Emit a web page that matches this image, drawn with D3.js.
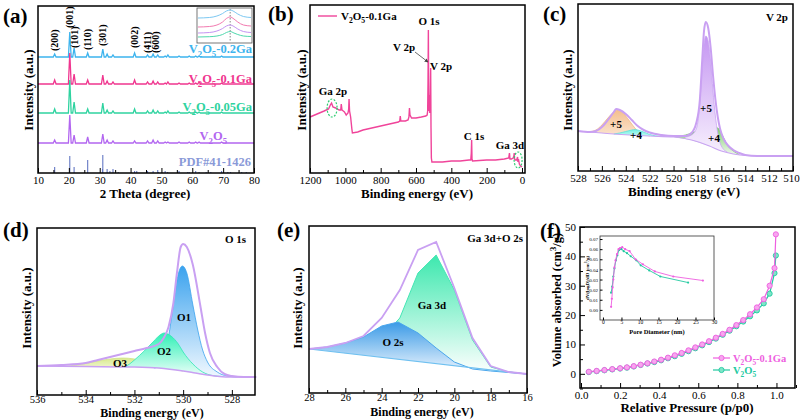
<!DOCTYPE html>
<html><head><meta charset="utf-8">
<script src="https://cdn.jsdelivr.net/npm/d3@7/dist/d3.min.js"></script>
<style>body{margin:0;background:#fff}svg{display:block}</style>
</head><body><svg id="c" width="800" height="420"></svg>
<script>
// ================= DATA =================
// (a) XRD
const xrdTicks=[10,20,30,40,50,60,70,80];
const xrdPeakPos=[15.4,20.3,21.7,26.1,31.0,32.4,34.3,41.3,45.5,47.3,48.8,51.2,52.1,55.7,59.0,61.1,62.2,69.5];
const xrd02Ga =[3,25,9,4,8,3,2,4,2,3,2,1,2,1,1,1,1,1];
const xrd01Ga =[4,31,10,4,9,3,2,4,2,3,2,1,2,1,1,1,2,1];
const xrd005Ga=[4,33,11,4,10,3,2,4,2,3,2,1,2,1,1,1,1,1];
const xrdV2O5  =[3,28,8,6,9,3,2,2,2,3,2,1,1,1,1,1,1,1];
const xrdOffsets=[116,89,60,30];
const pdfPos=[15.4,20.3,21.7,26.1,30.9,31.0,32.4,33.3,34.3,36.0,41.3,42.0,45.5,47.3,48.8,49.0,51.2,52.0,55.7,58.5,59.0,61.1,62.2,64.5,66.0,69.5,71.5,72.4,76.0,77.5];
const pdfInt=[6,17,6,13,4,18,4,2,4,1,2,2,2,2,3,1,2,1,2,1,1,2,1,1,1,2,1,1,1,1];
const millerLabels=["(200)","(001)","(101)","(110)","(301)","(002)","(411)","(600)"];
const millerPos=[15.4,20.3,21.9,26.1,31.0,41.3,45.5,48.2];
const millerTop=[122,145,125,123,127,125,120,120];
// (a) inset
const insetX=[19.6,19.9,20.1,20.25,20.35,20.45,20.55,20.65,20.8,21.0];
const insetBlue=[25,25.5,27,29.5,32,33,31.5,29,26.5,25.5];
const insetPink=[16,16.5,18,21,24.5,26,24,21,18,17];
const insetPurple=[10,10.5,12,14.5,17,18,16.5,14,11.5,10.5];
const insetGreen=[6,6.3,7,8.5,10.5,11.5,10,8.5,7,6.5];
// (b) XPS survey
const surveyTicks=[1200,1000,800,600,400,200,0];
const survey=[[1200,56],[1160,59],[1120,62],[1095,64],[1085,68],[1078,70],[1070,66],[1055,65],[1035,63],[1026,63],[1023,69],[1019,63],[1005,61],[995,58],[985,60],[981,64],[979,74],[976,62],[970,56],[963,44],[960,40],[930,41],[900,43],[850,45],[800,47],[750,49],[700,51],[692,52],[689,57],[686,52],[660,52],[645,53],[640,56],[637,65],[634,58],[625,55],[600,55],[570,56],[545,57],[537,58],[534,62],[532,90],[530,143],[528,75],[526,62],[524,78],[522,60],[519,80],[517,105],[515,45],[513,15],[510,11],[450,11],[400,12],[350,12],[300,13],[290,13],[287,20],[285,33],[283,14],[280,12],[200,13],[150,13],[100,14],[75,15],[71,20],[68,14],[60,14],[50,15],[46,17],[44,20],[42,14],[38,13],[30,13],[25,16],[23,11],[20,14],[15,9],[8,7],[0,6]];
// (c) V 2p
const v2pTicks=[528,526,524,522,520,518,516,514,512,510];
const v2pEnvelope=[[528,40],[527,39],[526.5,40],[526,44],[525.5,51],[525,59],[524.8,62],[524.5,61],[524,57],[523.5,51],[523,45],[522.5,41],[522,38.5],[521,36],[520,35],[519,35],[518.5,38],[518.1,48],[517.8,71],[517.6,111],[517.45,140],[517.3,149],[517.1,143],[516.9,124],[516.7,96],[516.5,72],[516.3,54],[516.1,42],[515.8,32],[515.4,25],[515,21],[514.5,18],[514,16],[513,15],[510,15]];
const v2pBackground=[[528,40],[525,37],[522,35],[520,34],[518.5,31],[517,25],[516,20],[515,17],[514,15.5],[510,15]];
const v2p5a=[[527.5,39.5],[527,39.5],[526.5,41],[526,46],[525.5,53],[525,59],[524.7,61],[524.3,59],[524,55],[523.5,47],[523,40],[522.5,37],[522,35]];
const v2p4a=[[525,37],[524.5,38],[524,39.5],[523.5,41],[523.2,41.5],[523,41],[522.5,39],[522,36.5],[521,34.5]];
const v2p5b=[[519,34],[518.5,36],[518.1,42],[517.9,55],[517.7,85],[517.5,120],[517.3,135],[517.1,130],[516.9,110],[516.7,80],[516.5,55],[516.3,38],[516,25],[515.5,19]];
const v2p4b=[[520,34.5],[519,36],[518.5,38],[518,40],[517.5,41.5],[517,42],[516.6,43.5],[516.3,43],[516.1,40],[515.8,33],[515.5,26],[515,20],[514.5,16.5]];
// (d) O 1s
const o1sTicks=[536,534,532,530,528];
const o1sEnvelope=[[536,29],[535,30],[534,32],[533.5,35],[533,38],[532.5,41],[532,44],[531.5,47],[531,51],[530.8,57],[530.6,68],[530.4,92],[530.25,123],[530.1,148],[530.0,151],[529.85,148],[529.6,130],[529.3,90],[529.1,62],[528.9,42],[528.6,28],[528.3,21],[528,19],[527.5,18],[527,18]];
const o1sBackground=[[536,29],[534,28.5],[532,28],[531,27],[530,24],[529.5,22],[529,20],[528.5,18.5],[528,18],[527,18]];
const o1sO1=[[531.2,27],[531,28.5],[530.8,35],[530.6,58],[530.4,90],[530.2,121],[530.03,129],[529.85,122],[529.6,90],[529.4,65],[529.2,45],[529.0,33],[528.6,23],[528.2,19],[527.8,18]];
const o1sO2=[[532.4,28],[532.2,31],[532,35],[531.6,44],[531.2,54],[530.95,60],[530.78,62],[530.5,59],[530.2,51],[530.0,43],[529.6,31],[529.2,23],[528.8,19.5],[528.4,18.5]];
const o1sO3=[[534.8,28.5],[534.5,29.5],[534,31.5],[533.5,34],[533,36],[532.5,37],[532,36],[531.5,33],[531,30],[530.5,26.5],[530,24]];
// (e) Ga 3d + O 2s
const ga3dTicks=[28,26,24,22,20,18,16];
const ga3dEnvelope=[[28,44],[27,46],[26,50],[25,57],[24,75],[23,103],[22,143],[21,151],[20,105],[19,55],[18,27],[17,21],[16,19]];
const ga3dGa=[[23.2,71],[23,75],[22,120],[21,138],[20,103],[19,53],[18,26],[17,21],[16,19]];
const ga3dO2s=[[28,44],[27,46],[26,50],[25,56],[24,67],[23.1,71],[22,60],[21,45],[20,31],[19,24],[18,22],[17,20.5],[16,19]];
const ga3dBackground=[[28,44],[16,19]];
// (f) N2 isotherm
const betTicksX=[0.0,0.2,0.4,0.6,0.8,1.0];
const betTicksY=[0,10,20,30,40,50];
const betP=[0.04,0.08,0.12,0.16,0.20,0.235,0.27,0.305,0.34,0.375,0.41,0.445,0.48,0.515,0.55,0.585,0.62,0.655,0.69,0.725,0.76,0.795,0.83,0.865,0.90,0.935,0.965,0.99,0.997];
const bet01Ga=[0.7,1.0,1.3,1.6,1.9,2.2,2.6,3.1,3.6,4.2,4.8,5.5,6.3,7.1,8.0,9.0,10.0,11.1,12.3,13.6,15.0,16.6,18.3,20.3,22.6,25.4,30.0,36.0,47.5];
const betV2O5=[0.6,0.9,1.2,1.5,1.8,2.1,2.5,3.0,3.5,4.0,4.6,5.3,6.0,6.8,7.7,8.7,9.7,10.8,12.0,13.3,14.7,16.2,17.8,19.6,21.6,24.0,27.3,34.3,40.3];
// (f) inset pore size
const poreTicksX=[0,5,10,15,20,25,30];
const poreTicksY=[0,0.01,0.02,0.03,0.04,0.05,0.06,0.07];
const pore01Ga=[[2.2,0.003],[2.4,0.011],[2.6,0.022],[2.8,0.030],[3.1,0.042],[3.4,0.049],[3.8,0.055],[4.2,0.060],[4.6,0.061],[5.2,0.062],[6.0,0.060],[7.2,0.058],[8.8,0.050],[10.8,0.045],[14,0.038],[19,0.033],[27,0.029]];
const poreV2O5=[[2.2,0.017],[2.5,0.023],[2.8,0.033],[3.1,0.041],[3.5,0.049],[3.9,0.054],[4.3,0.059],[5.0,0.060],[5.6,0.058],[6.5,0.056],[7.5,0.053],[9.0,0.049],[10.2,0.044],[12.5,0.039],[15.5,0.033],[23,0.027]];

// ================= DRAWING =================
const FONT='"Liberation Serif","Times New Roman",serif';
const svg=d3.select('#c').attr('font-family',FONT);
const defs=svg.append('defs');
function grad(id,c1,c2,o1=1,o2=1){
  const g=defs.append('linearGradient').attr('id',id).attr('x1',0).attr('y1',0).attr('x2',0).attr('y2',1);
  g.append('stop').attr('offset','0%').attr('stop-color',c1).attr('stop-opacity',o1);
  g.append('stop').attr('offset','100%').attr('stop-color',c2).attr('stop-opacity',o2);
}
grad('gOrange','#f4bf8e','#fbe4cf');
grad('gCyan','#6ff0e2','#c8faf4');
grad('gPurple','#c596f2','#f6effd');
grad('gGreen','#7fcf6e','#eef8ea');
grad('gBlue','#3aa2ee','#f0f8ff');
grad('gTeal','#2ef0b6','#f0fffa');
grad('gYellow','#d9ea8c','#f6f9e4');
grad('gGa','#3de8ae','#ffffff');
grad('gO2s','#3a9ae6','#f2f8ff');

function text(g,x,y,parts,o={}){
  const sz=o.size||12;
  const t=g.append('text').attr('x',x).attr('y',y).attr('font-size',sz)
    .attr('font-weight',o.weight||'bold').attr('fill',o.color||'#000')
    .attr('text-anchor',o.anchor||'start').attr('font-family',FONT);
  if(o.rotate) t.attr('transform',`rotate(${o.rotate},${x},${y})`);
  if(typeof parts==='string'){t.text(parts);return t;}
  let shift=0;
  parts.forEach(p=>{
    const [s,k]=Array.isArray(p)?p:[p,null];
    const ts=t.append('tspan').text(s);
    const target=k==='sub'?sz*0.3:k==='sup'?-sz*0.4:0;
    if(target!==shift){ts.attr('dy',target-shift);shift=target;}
    if(k) ts.attr('font-size',sz*0.7);
  });
  return t;
}
function frame(x0,y0,x1,y1){
  svg.append('rect').attr('x',x0).attr('y',y0).attr('width',x1-x0).attr('height',y1-y0)
    .attr('fill','none').attr('stroke','#000').attr('stroke-width',1.5);
}
function bottomAxis(scale,y,ticks,fmt,minor,size=11,len=5,pad=3){
  const a=svg.append('g').attr('transform',`translate(0,${y})`)
    .call(d3.axisBottom(scale).tickValues(ticks).tickSize(-len).tickPadding(pad).tickFormat(fmt||d3.format('d')));
  a.select('.domain').remove();
  a.selectAll('text').attr('font-size',size).attr('font-family',FONT).attr('fill','#000');
  a.selectAll('line').attr('stroke','#000');
  if(minor){
    const m=svg.append('g').attr('transform',`translate(0,${y})`)
      .call(d3.axisBottom(scale).tickValues(minor).tickSize(-len*0.6).tickFormat(''));
    m.select('.domain').remove(); m.selectAll('line').attr('stroke','#000');
  }
  return a;
}
function leftAxis(scale,x,ticks,fmt,minor,size=11,len=5,pad=4){
  const a=svg.append('g').attr('transform',`translate(${x},0)`)
    .call(d3.axisLeft(scale).tickValues(ticks).tickSize(-len).tickPadding(pad).tickFormat(fmt||d3.format('d')));
  a.select('.domain').remove();
  a.selectAll('text').attr('font-size',size).attr('font-family',FONT).attr('fill','#000');
  a.selectAll('line').attr('stroke','#000');
  if(minor){
    const m=svg.append('g').attr('transform',`translate(${x},0)`)
      .call(d3.axisLeft(scale).tickValues(minor).tickSize(-len*0.6).tickFormat(''));
    m.select('.domain').remove(); m.selectAll('line').attr('stroke','#000');
  }
  return a;
}
function interp(arr,x){
  const s=arr.slice().sort((a,b)=>a[0]-b[0]);
  if(x<=s[0][0]) return s[0][1];
  for(let i=1;i<s.length;i++){ if(x<=s[i][0]){const t=(x-s[i-1][0])/(s[i][0]-s[i-1][0]);return s[i-1][1]+t*(s[i][1]-s[i-1][1]);} }
  return s[s.length-1][1];
}
function range(a,b,s){const r=[];for(let v=a;v<=b+1e-9;v+=s)r.push(+v.toFixed(4));return r;}

// ---------- (a) ----------
{
  const x=d3.scaleLinear([10,80],[38,254]);
  const y=d3.scaleLinear([0,167],[173,6]);
  const cols=['#3db4ee','#f0368f','#2fd3a0','#b266f0'];
  const series=[xrd02Ga,xrd01Ga,xrd005Ga,xrdV2O5];
  const line=d3.line().x(d=>x(d[0])).y(d=>y(d[1]));
  series.forEach((h,i)=>{
    const off=xrdOffsets[i];
    const pts=[[10,off]];
    xrdPeakPos.forEach((p,j)=>{pts.push([p-0.45,off],[p,off+h[j]],[p+0.45,off]);});
    pts.push([80,off]);
    svg.append('path').attr('d',line(pts)).attr('fill','none').attr('stroke',cols[i]).attr('stroke-width',1.3);
  });
  pdfPos.forEach((p,i)=>{
    svg.append('line').attr('x1',x(p)).attr('x2',x(p)).attr('y1',y(0)).attr('y2',y(pdfInt[i]))
      .attr('stroke','#6478c4').attr('stroke-width',1.1);
  });
  millerLabels.forEach((m,i)=>{
    text(svg,x(millerPos[i])+3.5,y(millerTop[i]),m,{size:10,rotate:-90});
  });
  text(svg,252,53,["V",["2","sub"],"O",["5","sub"],"-0.2Ga"],{size:12.5,anchor:'end',color:'#3db4ee'});
  text(svg,252,83,["V",["2","sub"],"O",["5","sub"],"-0.1Ga"],{size:12.5,anchor:'end',color:'#f0368f'});
  text(svg,252,111,["V",["2","sub"],"O",["5","sub"],"-0.05Ga"],{size:12.5,anchor:'end',color:'#2fd3a0'});
  text(svg,227,140,["V",["2","sub"],"O",["5","sub"]],{size:12.5,anchor:'end',color:'#b266f0'});
  text(svg,251,166,"PDF#41-1426",{size:12.5,anchor:'end',color:'#8a9ad8'});
  svg.append('rect').attr('x',197).attr('y',8).attr('width',55).attr('height',35).attr('fill','#fff').attr('stroke','#555').attr('stroke-width',0.8);
  const xi=d3.scaleLinear([19.6,21.0],[198,251]);
  const yi=d3.scaleLinear([0,35],[43,8]);
  svg.append('line').attr('x1',xi(20.45)).attr('x2',xi(20.45)).attr('y1',9).attr('y2',42).attr('stroke','#555').attr('stroke-dasharray','1.5,1.5').attr('stroke-width',0.7);
  const il=d3.line().x((d,i)=>xi(insetX[i])).y(d=>yi(d)).curve(d3.curveMonotoneX);
  [[insetBlue,'#7cc8f2'],[insetPink,'#f27ab0'],[insetPurple,'#c493f2'],[insetGreen,'#4fd8ad']].forEach(([s,c])=>{
    svg.append('path').attr('d',il(s)).attr('fill','none').attr('stroke',c).attr('stroke-width',1);
  });
  frame(38,6,254,173);
  bottomAxis(x,173,xrdTicks,d3.format('d'),range(15,75,10));
  text(svg,145,198,"2 Theta (degree)",{size:13,anchor:'middle'});
  text(svg,33,90,"Intensity (a.u.)",{size:13,anchor:'middle',rotate:-90});
  text(svg,3,23,"(a)",{size:21});
}

// ---------- (b) ----------
{
  const x=d3.scaleLinear([1200,-17],[310,525]);
  const y=d3.scaleLinear([0,168],[173,5]);
  svg.append('path').attr('d',d3.line().x(d=>x(d[0])).y(d=>y(d[1]))(survey))
    .attr('fill','none').attr('stroke','#f0449a').attr('stroke-width',1.4);
  svg.append('line').attr('x1',318).attr('x2',337).attr('y1',16).attr('y2',16).attr('stroke','#f0449a').attr('stroke-width',1.4);
  text(svg,341,20,["V",["2","sub"],"O",["5","sub"],"-0.1Ga"],{size:11});
  text(svg,429,25,"O 1s",{size:11,anchor:'middle'});
  text(svg,404,51,"V 2p",{size:11,anchor:'middle'});
  text(svg,441,70,"V 2p",{size:11,anchor:'middle'});
  text(svg,333,95,"Ga 2p",{size:11,anchor:'middle'});
  text(svg,474,140,"C 1s",{size:11,anchor:'middle'});
  text(svg,510,149,"Ga 3d",{size:11,anchor:'middle'});
  defs.append('marker').attr('id','arr').attr('viewBox','0 0 6 6').attr('refX',5).attr('refY',3)
    .attr('markerWidth',5).attr('markerHeight',5).attr('orient','auto')
    .append('path').attr('d','M0,0L6,3L0,6Z').attr('fill','#444');
  svg.append('line').attr('x1',415).attr('y1',52).attr('x2',428).attr('y2',62).attr('stroke','#444').attr('stroke-width',0.8).attr('marker-end','url(#arr)');
  svg.append('ellipse').attr('cx',x(1075)).attr('cy',108).attr('rx',5).attr('ry',9).attr('fill','none').attr('stroke','#2ecc71').attr('stroke-width',1.2).attr('stroke-dasharray','2,1.5');
  svg.append('ellipse').attr('cx',x(22)).attr('cy',160).attr('rx',4).attr('ry',8).attr('fill','none').attr('stroke','#2ecc71').attr('stroke-width',1.2).attr('stroke-dasharray','2,1.5');
  frame(310,5,525,173);
  bottomAxis(x,173,surveyTicks,d3.format('d'),range(100,1100,200));
  text(svg,417,198,"Binding energy (eV)",{size:13,anchor:'middle'});
  text(svg,306,90,"Intensity (a.u.)",{size:13,anchor:'middle',rotate:-90});
  text(svg,268,21,"(b)",{size:21});
}

// ---------- (c) ----------
{
  const x=d3.scaleLinear([528,510],[578,793]);
  const y=d3.scaleLinear([0,166],[171,5]);
  const area=(d,bg)=>d3.area().x(p=>x(p[0])).y1(p=>y(p[1])).y0(p=>y(interp(bg,p[0]))).curve(d3.curveMonotoneX)(d);
  const ln=d3.line().x(p=>x(p[0])).y(p=>y(p[1])).curve(d3.curveMonotoneX);
  [[v2p5a,'url(#gOrange)','#f0b882'],[v2p4a,'url(#gCyan)','#60e0d8'],[v2p4b,'url(#gGreen)','#78c868'],[v2p5b,'url(#gPurple)','#c9a4f2']].forEach(([d,f,s])=>{
    svg.append('path').attr('d',area(d,v2pBackground)).attr('fill',f).attr('stroke','none');
    svg.append('path').attr('d',ln(d)).attr('fill','none').attr('stroke',s).attr('stroke-width',0.8);
  });
  svg.append('path').attr('d',ln(v2pBackground)).attr('fill','none').attr('stroke','#c9a4f2').attr('stroke-width',1.2);
  svg.append('path').attr('d',ln(v2pEnvelope)).attr('fill','none').attr('stroke','#c9a0f2').attr('stroke-width',2);
  text(svg,616,128,"+5",{size:11,anchor:'middle'});
  text(svg,636,139,"+4",{size:11,anchor:'middle'});
  text(svg,706,112,"+5",{size:11,anchor:'middle'});
  text(svg,714,142,"+4",{size:11,anchor:'middle'});
  text(svg,788,21,"V 2p",{size:11,anchor:'end'});
  frame(578,4,793,171);
  const ac=bottomAxis(x,171,v2pTicks,d3.format('d'),range(511,527,2));
  ac.selectAll('text').filter(d=>d===510).attr('dx',-2);
  text(svg,684,196,"Binding energy (eV)",{size:13,anchor:'middle'});
  text(svg,572,90,"Intensity (a.u.)",{size:13,anchor:'middle',rotate:-90});
  text(svg,543,21,"(c)",{size:21});
}

// ---------- (d) ----------
{
  const x=d3.scaleLinear([536,527.05],[37,255]);
  const y=d3.scaleLinear([0,167],[395,228]);
  const area=(d,bg)=>d3.area().x(p=>x(p[0])).y1(p=>y(p[1])).y0(p=>y(interp(bg,p[0]))).curve(d3.curveMonotoneX)(d);
  const ln=d3.line().x(p=>x(p[0])).y(p=>y(p[1])).curve(d3.curveMonotoneX);
  [[o1sO3,'url(#gYellow)','#d0e288'],[o1sO1,'url(#gBlue)','#3aa2ee'],[o1sO2,'url(#gTeal)','#2ee6b4']].forEach(([d,f,s])=>{
    svg.append('path').attr('d',area(d,o1sBackground)).attr('fill',f).attr('stroke','none');
    svg.append('path').attr('d',ln(d)).attr('fill','none').attr('stroke',s).attr('stroke-width',0.8);
  });
  svg.append('path').attr('d',ln(o1sBackground)).attr('fill','none').attr('stroke','#c9a0f2').attr('stroke-width',1.5);
  svg.append('path').attr('d',ln(o1sEnvelope)).attr('fill','none').attr('stroke','#c9a0f2').attr('stroke-width',2);
  text(svg,184,321,"O1",{size:11,anchor:'middle'});
  text(svg,164,355,"O2",{size:11,anchor:'middle'});
  text(svg,120,367,"O3",{size:11,anchor:'middle'});
  text(svg,246,243,"O 1s",{size:11,anchor:'end'});
  frame(37,228,255,395);
  bottomAxis(x,395,o1sTicks,d3.format('d'),range(529,535,2),10.5,5,1);
  text(svg,152,416.5,"Binding energy (eV)",{size:12,anchor:'middle'});
  text(svg,31,308,"Intensity (a.u.)",{size:13,anchor:'middle',rotate:-90});
  text(svg,3,237,"(d)",{size:21});
}

// ---------- (e) ----------
{
  const x=d3.scaleLinear([28,16],[309,527]);
  const y=d3.scaleLinear([0,167],[393,226]);
  const area=(d,bg)=>d3.area().x(p=>x(p[0])).y1(p=>y(p[1])).y0(p=>y(interp(bg,p[0])))(d);
  const ln=d3.line().x(p=>x(p[0])).y(p=>y(p[1]));
  svg.append('path').attr('d',area(ga3dGa,ga3dBackground)).attr('fill','url(#gGa)');
  svg.append('path').attr('d',ln(ga3dGa)).attr('fill','none').attr('stroke','#45e6b4').attr('stroke-width',1);
  svg.append('path').attr('d',area(ga3dO2s,ga3dBackground)).attr('fill','url(#gO2s)');
  svg.append('path').attr('d',ln(ga3dO2s)).attr('fill','none').attr('stroke','#4aa6ec').attr('stroke-width',1);
  svg.append('path').attr('d',ln(ga3dBackground)).attr('fill','none').attr('stroke','#6fc0f0').attr('stroke-width',1.2);
  svg.append('path').attr('d',ln(ga3dEnvelope)).attr('fill','none').attr('stroke','#c9a0f2').attr('stroke-width',1.8);
  text(svg,432,309,"Ga 3d",{size:11,anchor:'middle'});
  text(svg,393,346,"O 2s",{size:11,anchor:'middle'});
  text(svg,523,242,"Ga 3d+O 2s",{size:11,anchor:'end'});
  frame(309,226,527,393);
  bottomAxis(x,393,ga3dTicks,d3.format('d'),range(17,27,2),10.5,5,1);
  text(svg,422,416,"Binding energy (eV)",{size:12,anchor:'middle'});
  text(svg,302,308,"Intensity (a.u.)",{size:13,anchor:'middle',rotate:-90});
  text(svg,277,237,"(e)",{size:21});
}

// ---------- (f) ----------
{
  const x=d3.scaleLinear([0,1.1],[581,796]);
  const y=d3.scaleLinear([-5,50],[388.5,227]);
  const pink='#ee5fe0', green='#22c9a0';
  const ln=d3.line().x((d,i)=>x(betP[i])).y(d=>y(d));
  [[betV2O5,green,'#7fe6c8'],[bet01Ga,pink,'#f7a6ef']].forEach(([s,c,f])=>{
    svg.append('path').attr('d',ln(s)).attr('fill','none').attr('stroke',c).attr('stroke-width',1.2);
    s.forEach((v,i)=>svg.append('circle').attr('cx',x(betP[i])).attr('cy',y(v)).attr('r',2.6).attr('fill',f).attr('stroke',c).attr('stroke-width',0.9));
  });
  [[358,pink,'#f7a6ef',"-0.1Ga"],[370,green,'#7fe6c8',""]].forEach(([ly,c,f,suf])=>{
    svg.append('line').attr('x1',713).attr('x2',730).attr('y1',ly).attr('y2',ly).attr('stroke',c).attr('stroke-width',1.2);
    svg.append('circle').attr('cx',721.5).attr('cy',ly).attr('r',2.6).attr('fill',f).attr('stroke',c).attr('stroke-width',0.9);
    const parts=["V",["2","sub"],"O",["5","sub"]]; if(suf) parts.push(suf);
    text(svg,733,ly+3.5,parts,{size:10.5,color:c});
  });
  frame(580,227,795,388);
  bottomAxis(x,388,betTicksX,d3.format('.1f'),range(0.1,1.1,0.2));
  leftAxis(y,580,betTicksY,d3.format('d'),range(-5,45,10));
  text(svg,687,412,"Relative Pressure (p/p0)",{size:13,anchor:'middle'});
  text(svg,561,300,["Volume absorbed (cm",["3","sup"],"/g)"],{size:12.5,anchor:'middle',rotate:-90});
  text(svg,540,238,"(f)",{size:21});
  const xi=d3.scaleLinear([-0.8,30],[600,714]);
  const yi=d3.scaleLinear([-0.010,0.073],[320,236]);
  const il=d3.line().x(d=>xi(d[0])).y(d=>yi(d[1]));
  [[poreV2O5,green],[pore01Ga,pink]].forEach(([s,c])=>{
    svg.append('path').attr('d',il(s)).attr('fill','none').attr('stroke',c).attr('stroke-width',0.9);
    s.forEach(d=>svg.append('circle').attr('cx',xi(d[0])).attr('cy',yi(d[1])).attr('r',1.1).attr('fill',c));
  });
  svg.append('rect').attr('x',600).attr('y',236).attr('width',114).attr('height',84).attr('fill','none').attr('stroke','#333').attr('stroke-width',0.8);
  const ax=bottomAxis(xi,320,poreTicksX,d3.format('d'),null,5.5,2.5);
  ax.selectAll('text').attr('dy','0.2em').attr('y',3);
  leftAxis(yi,600,poreTicksY,d3.format('.2f'),null,5,2.5,2);
  text(svg,657,334,"Pore Diameter (nm)",{size:6.5,anchor:'middle'});
  text(svg,589,278,["dV(logD)/dD (cm",["3","sup"],"/g)"],{size:5,anchor:'middle',rotate:-90});
}
</script></body></html>
